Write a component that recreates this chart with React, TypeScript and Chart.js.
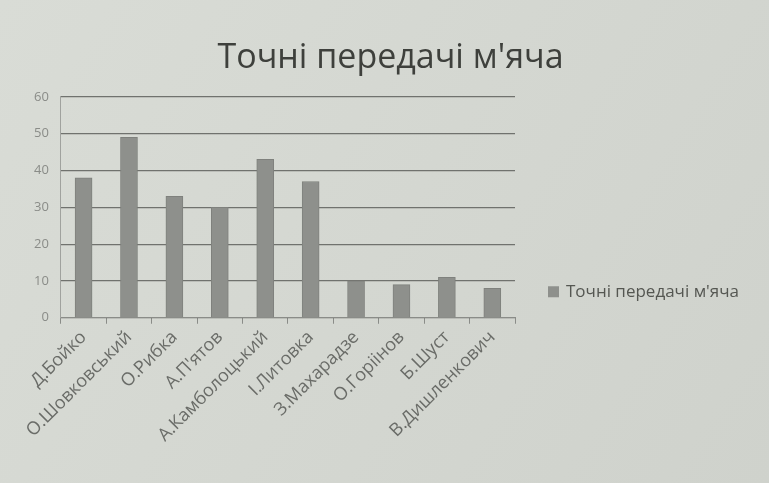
import React, { useEffect, useRef } from "react";
import { Chart, registerables } from "chart.js";

Chart.register(...registerables);

const categories = [
  "Д.Бойко",
  "О.Шовковський",
  "О.Рибка",
  "А.П'ятов",
  "А.Камболоцький",
  "І.Литовка",
  "З.Махарадзе",
  "О.Горіінов",
  "Б.Шуст",
  "В.Дишленкович",
];
const seriesName = "Точні передачі м'яча";
const values = [38, 49, 33, 30, 43, 37, 10, 9, 11, 8];
const titleText = "Точні передачі м'яча";

const bgPlugin = {
  id: "bg",
  beforeDraw(chart: any) {
    const ctx = chart.ctx;
    ctx.save();
    const g = ctx.createLinearGradient(0, 0, chart.width, chart.height);
    g.addColorStop(0, "#d9dcd6");
    g.addColorStop(1, "#cfd2cc");
    ctx.fillStyle = g;
    ctx.fillRect(0, 0, chart.width, chart.height);
    ctx.restore();
  },
};

// Legend drawn to the right of the plot, from the dataset's own label and colour
const sideLegend = {
  id: "sideLegend",
  afterDraw(chart: any) {
    const ctx = chart.ctx;
    const ds = chart.data.datasets[0];
    const x = chart.chartArea.right + 33;
    const y = chart.chartArea.bottom - 26;
    ctx.save();
    ctx.fillStyle = ds.backgroundColor;
    ctx.fillRect(x, y - 5.5, 11, 11);
    ctx.fillStyle = "#555752";
    ctx.font = "17px 'Open Sans'";
    ctx.textBaseline = "middle";
    ctx.textAlign = "left";
    ctx.fillText(ds.label, x + 18, y);
    ctx.restore();
  },
};

export default function App() {
  const ref = useRef<HTMLCanvasElement>(null);
  useEffect(() => {
    if (!ref.current) return;
    const chart = new Chart(ref.current, {
      type: "bar",
      data: {
        labels: categories,
        datasets: [
          {
            label: seriesName,
            data: values,
            backgroundColor: "#8e908c",
            borderColor: "#7f817d",
            borderWidth: 1,
            barThickness: 17,
          },
        ],
      },
      options: {
        animation: false,
        responsive: false,
        layout: { padding: { top: 0, right: 10, bottom: 34, left: 22 } },
        plugins: {
          title: {
            display: true,
            text: titleText,
            color: "#3e403c",
            font: { family: "Open Sans", size: 34, weight: "500" },
            padding: { top: 38, bottom: 18 },
          },
          legend: { display: false },
          tooltip: { enabled: false },
        },
        scales: {
          x: {
            grid: {
              display: true,
              drawOnChartArea: false,
              offset: true,
              tickLength: 6,
              color: "#8a8c88",
            },
            border: { color: "#8a8c88" },
            ticks: {
              color: "#6a6c68",
              font: { family: "Open Sans", size: 18 },
              minRotation: 45,
              maxRotation: 45,
              autoSkip: false,
            },
          },
          y: {
            min: 0,
            max: 60,
            ticks: {
              stepSize: 10,
              color: "#8a8c88",
              font: { family: "Open Sans", size: 13 },
              padding: 12,
            },
            grid: { color: "#70726e", lineWidth: 1.2, drawTicks: false },
            border: { display: true, color: "#a0a29e" },
          },
          legendSpace: {
            type: "linear",
            position: "right",
            display: true,
            grid: { display: false, drawTicks: false },
            border: { display: false },
            ticks: { display: false },
            afterFit(scale: any) {
              scale.width = 244;
            },
          },
        },
      },
      plugins: [bgPlugin, sideLegend],
    });
    return () => chart.destroy();
  }, []);
  return (
    <div style={{ position: "fixed", left: 0, top: 0 }}>
      <canvas ref={ref} width={769} height={483} />
    </div>
  );
}
